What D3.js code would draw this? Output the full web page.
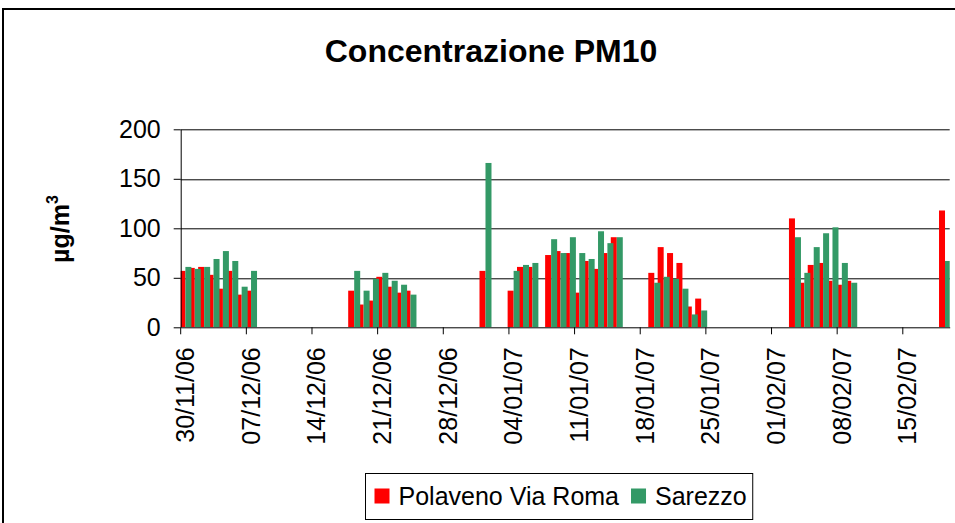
<!DOCTYPE html>
<html>
<head>
<meta charset="utf-8">
<script src="https://cdn.jsdelivr.net/npm/d3@7"></script>
<style>
body { margin: 0; background: #fff; }
svg { display: block; }
</style>
</head>
<body>
<div class="root"></div>
<script>
// Days with measurements (dd/mm/yy) and PM10 values for the two stations
var dates = [
  "30/11/06", "01/12/06", "02/12/06", "03/12/06", "04/12/06", "05/12/06", "06/12/06", "07/12/06",
  "18/12/06", "19/12/06", "20/12/06", "21/12/06", "22/12/06", "23/12/06", "24/12/06",
  "01/01/07",
  "04/01/07", "05/01/07", "06/01/07", "08/01/07", "09/01/07", "10/01/07", "11/01/07", "12/01/07", "13/01/07", "14/01/07", "15/01/07",
  "19/01/07", "20/01/07", "21/01/07", "22/01/07", "23/01/07", "24/01/07",
  "03/02/07", "04/02/07", "05/02/07", "06/02/07", "07/02/07", "08/02/07", "09/02/07",
  "19/02/07"
];
var polaveno = [
  57, 60, 61, 53, 39, 57, 33, 37,
  37, 23, 27, 51, 41, 35, 37,
  57,
  37, 61, 61, 73, 77, 75, 35, 67, 59, 75, 91,
  55, 81, 75, 65, 21, 29,
  110, 45, 63, 65, 47, 43, 47,
  118
];
var sarezzo = [
  61, 59, 61, 69, 77, 67, 41, 57,
  57, 37, 49, 55, 47, 43, 33,
  166,
  57, 63, 65, 89, 75, 91, 75, 69, 97, 85, 91,
  45, 51, 49, 39, 13, 17,
  91, 55, 81, 95, 101, 65, 45,
  67
];
var tickLabels = ["30/11/06", "07/12/06", "14/12/06", "21/12/06", "28/12/06", "04/01/07",
  "11/01/07", "18/01/07", "25/01/07", "01/02/07", "08/02/07", "15/02/07"];
var yTicks = [0, 50, 100, 150, 200];
var seriesNames = ["Polaveno Via Roma", "Sarezzo"];
var seriesColors = ["#ff0000", "#339966"];

var fontFamily = "'Liberation Sans', Arial, sans-serif";

// canvas and plot area
var fullWidth = 955, fullHeight = 523;
var margin = { top: 129.3, right: 5.3, bottom: 195.7, left: 180.7 },
    width = fullWidth - margin.left - margin.right,
    height = fullHeight - margin.top - margin.bottom;

var parseDate = d3.timeParse("%d/%m/%y");

var data = dates.map(function (d, i) {
  return { date: parseDate(d), values: [polaveno[i], sarezzo[i]] };
});

// one band per calendar day from first to last measurement
var firstDay = parseDate(dates[0]);
var lastDay = parseDate(dates[dates.length - 1]);
var allDays = d3.timeDay.range(firstDay, d3.timeDay.offset(lastDay, 1));

var xScale = d3.scaleBand().domain(allDays).range([0, width]).padding(0);
var yScale = d3.scaleLinear().domain([0, 200]).range([height, 0]);
var bw = xScale.bandwidth();
var barW = 6;

var svgRoot = d3.select(".root").append("svg")
  .attr("width", fullWidth)
  .attr("height", fullHeight)
  .attr("font-family", fontFamily);

// chart border
svgRoot.append("rect")
  .attr("x", 3).attr("y", 9)
  .attr("width", 1000).attr("height", 600)
  .attr("fill", "none")
  .attr("stroke", "#000")
  .attr("stroke-width", 2);

// title
svgRoot.append("text")
  .attr("x", 491)
  .attr("y", 62)
  .attr("text-anchor", "middle")
  .attr("font-size", 32)
  .attr("font-weight", 700)
  .text("Concentrazione PM10");

// y axis label with superscript
var yLabel = svgRoot.append("text")
  .attr("transform", "translate(69,229) rotate(-90)")
  .attr("text-anchor", "middle")
  .attr("font-size", 25)
  .attr("font-weight", 700);
yLabel.append("tspan").text("\u00b5g/m");
yLabel.append("tspan").attr("font-size", 16).attr("dy", -11).text("3");

var svg = svgRoot.append("g")
  .attr("transform", "translate(" + margin.left + "," + margin.top + ")");

svg.append("clipPath").attr("id", "plotclip")
  .append("rect")
  .attr("x", 0).attr("y", -5)
  .attr("width", width).attr("height", height + 5);

// gridlines
svg.append("g")
  .selectAll("line")
  .data(yTicks.filter(function (t) { return t > 0; }))
  .join("line")
  .attr("x1", 0).attr("x2", width)
  .attr("y1", function (d) { return Math.round(yScale(d)) + 0.5; })
  .attr("y2", function (d) { return Math.round(yScale(d)) + 0.5; })
  .attr("stroke", "#000")
  .attr("stroke-width", 1);

// bars: all red first, then green on top
var bars = svg.append("g").attr("clip-path", "url(#plotclip)");
seriesNames.forEach(function (name, k) {
  bars.append("g")
    .attr("fill", seriesColors[k])
    .selectAll("rect")
    .data(data)
    .join("rect")
    .attr("x", function (d) { return xScale(d.date) + bw / 2 - barW + k * barW; })
    .attr("width", barW)
    .attr("y", function (d) { return yScale(d.values[k]); })
    .attr("height", function (d) { return height - yScale(d.values[k]); });
});

// x axis, ticks on the day boundaries, labels centred on the day
var xAxis = d3.axisBottom(xScale)
  .tickValues(tickLabels.map(parseDate))
  .tickFormat(function (d, i) { return tickLabels[i]; })
  .tickSize(7)
  .tickSizeOuter(0);

var gx = svg.append("g")
  .attr("transform", "translate(0," + height + ")")
  .call(xAxis)
  .attr("font-size", 25)
  .attr("font-family", fontFamily);
gx.selectAll(".tick line").attr("x1", -bw / 2).attr("x2", -bw / 2).attr("stroke", "#000");
gx.selectAll(".tick text")
  .attr("transform", "rotate(-90)")
  .attr("text-anchor", "end")
  .attr("x", -20)
  .attr("y", 0)
  .attr("dy", "0.35em")
  .attr("fill", "#000");
gx.select(".domain").attr("stroke", "#000");

// y axis
var yAxis = d3.axisLeft(yScale)
  .tickValues(yTicks)
  .tickSize(7)
  .tickPadding(13)
  .tickSizeOuter(0);

var gy = svg.append("g")
  .call(yAxis)
  .attr("font-size", 25)
  .attr("font-family", fontFamily);
gy.selectAll("line, path").attr("stroke", "#000");
gy.selectAll("text").attr("fill", "#000");

// legend
var legend = svgRoot.append("g").attr("font-size", 25);
var legendBox = legend.append("rect")
  .attr("fill", "#fff")
  .attr("stroke", "#000")
  .attr("stroke-width", 1);
var lx = 374.5;
seriesNames.forEach(function (name, k) {
  legend.append("rect")
    .attr("x", lx).attr("y", 488.5)
    .attr("width", 15).attr("height", 15)
    .attr("fill", seriesColors[k]);
  var t = legend.append("text")
    .attr("x", lx + 24)
    .attr("y", 505)
    .text(name);
  lx = lx + 24 + t.node().getComputedTextLength() + 12;
});
legendBox
  .attr("x", 365.5).attr("y", 473.5)
  .attr("width", lx - 12 + 6 - 365.5)
  .attr("height", 46);
</script>
</body>
</html>
